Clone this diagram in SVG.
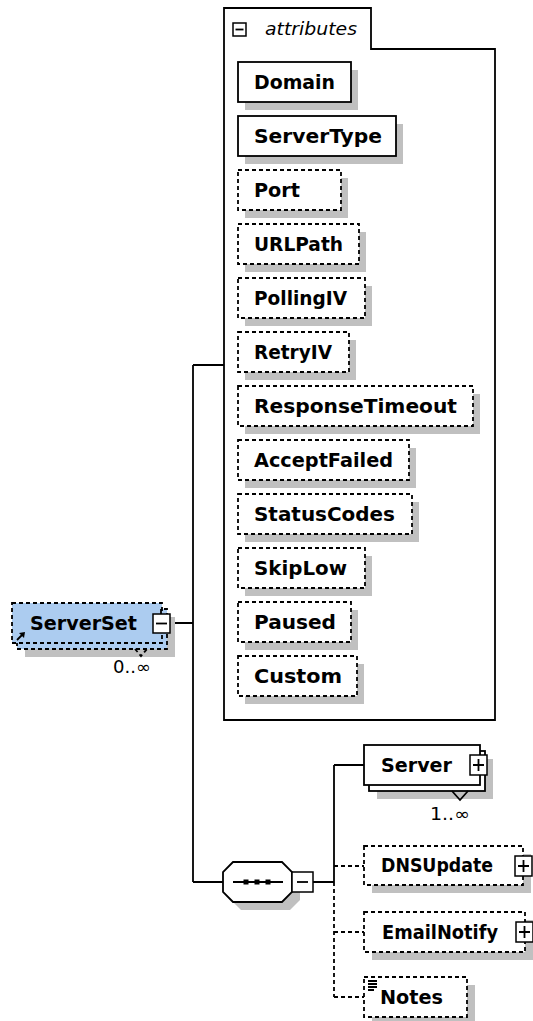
<svg xmlns="http://www.w3.org/2000/svg" width="533" height="1021" viewBox="0 0 533 1021">
<style>
.sh{fill:#c0c0c0;stroke:none}
.bx{fill:#fff;stroke:#000;stroke-width:1.8}
.dbx{fill:#fff;stroke:#000;stroke-width:1.8;stroke-dasharray:4 3}
.sel{fill:#acccf0;stroke:#000;stroke-width:1.8;stroke-dasharray:4 3}
.lbl{font-family:"DejaVu Sans",Verdana,sans-serif;font-weight:bold;font-size:19px;fill:#000}
.mul{font-family:"DejaVu Sans",Verdana,sans-serif;font-size:17px;fill:#000}
.ln{fill:none;stroke:#000;stroke-width:1.8}
.dln{fill:none;stroke:#000;stroke-width:1.8;stroke-dasharray:4 3}
.ic{fill:#fff;stroke:#000;stroke-width:1.5}
</style>

<g id="connectors">
<path class="ln" d="M172,623 H193 M193,365 V882 M193,365 H224 M193,882 H223 M313,882 H334 M334,765 V882 M334,765 H364"/>
<path class="dln" d="M334,882 V997 M334,866 H364 M334,932 H364 M334,997 H364"/>
</g>

<g id="attributes">
<path class="ln" d="M224,720 V8 H371 V49 H495 V720 Z" fill="#fff"/>
<rect class="ic" x="233" y="23" width="13" height="13"/>
<path class="ln" d="M235.5,29.5 H243.5" stroke-width="1.5"/>
<text x="265" y="35" font-family="DejaVu Sans,Verdana,sans-serif" font-style="italic" font-size="17" textLength="92" lengthAdjust="spacingAndGlyphs">attributes</text>
</g>

<g id="attr-Domain"><rect class="sh" x="245" y="70" width="113" height="40"/><rect class="bx" x="238" y="62" width="113" height="40"/><text class="lbl" x="254" y="89" textLength="81" lengthAdjust="spacingAndGlyphs">Domain</text></g>
<g id="attr-ServerType"><rect class="sh" x="245" y="124" width="158" height="40"/><rect class="bx" x="238" y="116" width="158" height="40"/><text class="lbl" x="254" y="143" textLength="128" lengthAdjust="spacingAndGlyphs">ServerType</text></g>
<g id="attr-Port"><rect class="sh" x="245" y="178" width="103" height="40"/><rect class="dbx" x="238" y="170" width="103" height="40"/><text class="lbl" x="254" y="197" textLength="46" lengthAdjust="spacingAndGlyphs">Port</text></g>
<g id="attr-URLPath"><rect class="sh" x="245" y="232" width="121" height="40"/><rect class="dbx" x="238" y="224" width="121" height="40"/><text class="lbl" x="254" y="251" textLength="89" lengthAdjust="spacingAndGlyphs">URLPath</text></g>
<g id="attr-PollingIV"><rect class="sh" x="245" y="286" width="127" height="40"/><rect class="dbx" x="238" y="278" width="127" height="40"/><text class="lbl" x="254" y="305" textLength="93" lengthAdjust="spacingAndGlyphs">PollingIV</text></g>
<g id="attr-RetryIV"><rect class="sh" x="245" y="340" width="111" height="40"/><rect class="dbx" x="238" y="332" width="111" height="40"/><text class="lbl" x="254" y="359" textLength="78" lengthAdjust="spacingAndGlyphs">RetryIV</text></g>
<g id="attr-ResponseTimeout"><rect class="sh" x="245" y="394" width="235" height="40"/><rect class="dbx" x="238" y="386" width="235" height="40"/><text class="lbl" x="254" y="413" textLength="203" lengthAdjust="spacingAndGlyphs">ResponseTimeout</text></g>
<g id="attr-AcceptFailed"><rect class="sh" x="245" y="448" width="171" height="40"/><rect class="dbx" x="238" y="440" width="171" height="40"/><text class="lbl" x="254" y="467" textLength="139" lengthAdjust="spacingAndGlyphs">AcceptFailed</text></g>
<g id="attr-StatusCodes"><rect class="sh" x="245" y="502" width="174" height="40"/><rect class="dbx" x="238" y="494" width="174" height="40"/><text class="lbl" x="254" y="521" textLength="141" lengthAdjust="spacingAndGlyphs">StatusCodes</text></g>
<g id="attr-SkipLow"><rect class="sh" x="245" y="556" width="127" height="40"/><rect class="dbx" x="238" y="548" width="127" height="40"/><text class="lbl" x="254" y="575" textLength="93" lengthAdjust="spacingAndGlyphs">SkipLow</text></g>
<g id="attr-Paused"><rect class="sh" x="245" y="610" width="113" height="40"/><rect class="dbx" x="238" y="602" width="113" height="40"/><text class="lbl" x="254" y="629" textLength="82" lengthAdjust="spacingAndGlyphs">Paused</text></g>
<g id="attr-Custom"><rect class="sh" x="245" y="664" width="119" height="40"/><rect class="dbx" x="238" y="656" width="119" height="40"/><text class="lbl" x="254" y="683" textLength="88" lengthAdjust="spacingAndGlyphs">Custom</text></g>

<g id="ServerSet">
<rect class="sh" x="25" y="617" width="150" height="40"/>
<rect class="sel" x="17" y="609" width="150" height="40"/>
<rect class="sel" x="12" y="603" width="150" height="40"/>
<text class="lbl" x="30" y="630" textLength="107" lengthAdjust="spacingAndGlyphs">ServerSet</text>
<path class="ln" d="M17,640 L23,634" stroke-width="2"/>
<path d="M25,632 L19,633 L24,638 Z" fill="#000"/>
<path class="ln" d="M161,609 V614" stroke-width="1.5"/>
<rect class="ic" x="153" y="614" width="17" height="19"/>
<path class="ln" d="M156,623.5 H167" stroke-width="1.5"/>
<polyline class="dln" points="135,649 141,656 147,649" stroke-dasharray="3 2"/>
<text class="mul" x="113" y="673" textLength="38" lengthAdjust="spacingAndGlyphs">0..∞</text>
</g>

<g id="sequence">
<polygon class="sh" points="241,870 290,870 300,880 300,900 290,910 241,910 231,900 231,880"/>
<polygon class="bx" points="233,862 282,862 292,872 292,892 282,902 233,902 223,892 223,872"/>
<path class="ln" d="M233,882 H283"/>
<rect x="243.5" y="879.5" width="5" height="5" fill="#000"/>
<rect x="254.5" y="879.5" width="5" height="5" fill="#000"/>
<rect x="265.5" y="879.5" width="5" height="5" fill="#000"/>
<rect class="ic" x="292" y="872" width="21" height="20"/>
<path class="ln" d="M297,882 H308" stroke-width="1.5"/>
</g>

<g id="Server">
<rect class="sh" x="377" y="759" width="116" height="40"/>
<rect class="bx" x="369" y="751" width="116" height="40"/>
<rect class="bx" x="364" y="745" width="116" height="40"/>
<text class="lbl" x="381" y="772" textLength="71" lengthAdjust="spacingAndGlyphs">Server</text>
<rect class="ic" x="470" y="755" width="17" height="20"/>
<path class="ln" d="M473,765 H484 M478.5,759 V771" stroke-width="1.5"/>
<polyline class="ln" points="452,791 460,800 468,791" stroke-width="1.5"/>
<text class="mul" x="430" y="820" textLength="40" lengthAdjust="spacingAndGlyphs">1..∞</text>
</g>

<g id="DNSUpdate">
<rect class="sh" x="372" y="854" width="159" height="39"/>
<rect class="dbx" x="364" y="846" width="159" height="39"/>
<text class="lbl" x="381" y="872" textLength="112" lengthAdjust="spacingAndGlyphs">DNSUpdate</text>
<rect class="ic" x="515" y="856" width="17" height="20"/>
<path class="ln" d="M518,866 H529 M523.5,860 V872" stroke-width="1.5"/>
</g>

<g id="EmailNotify">
<rect class="sh" x="372" y="920" width="161" height="40"/>
<rect class="dbx" x="364" y="912" width="161" height="40"/>
<text class="lbl" x="382" y="939" textLength="116" lengthAdjust="spacingAndGlyphs">EmailNotify</text>
<rect class="ic" x="516" y="922" width="17" height="20"/>
<path class="ln" d="M519,932 H530 M524.5,926 V938" stroke-width="1.5"/>
</g>

<g id="Notes">
<rect class="sh" x="372" y="985" width="103" height="40"/>
<rect class="dbx" x="364" y="977" width="103" height="40"/>
<path class="ln" d="M368,981 H377 M368,984 H377 M368,987 H377 M368,990 H374" stroke-width="1.2"/>
<text class="lbl" x="380" y="1004" textLength="63" lengthAdjust="spacingAndGlyphs">Notes</text>
</g>
</svg>
